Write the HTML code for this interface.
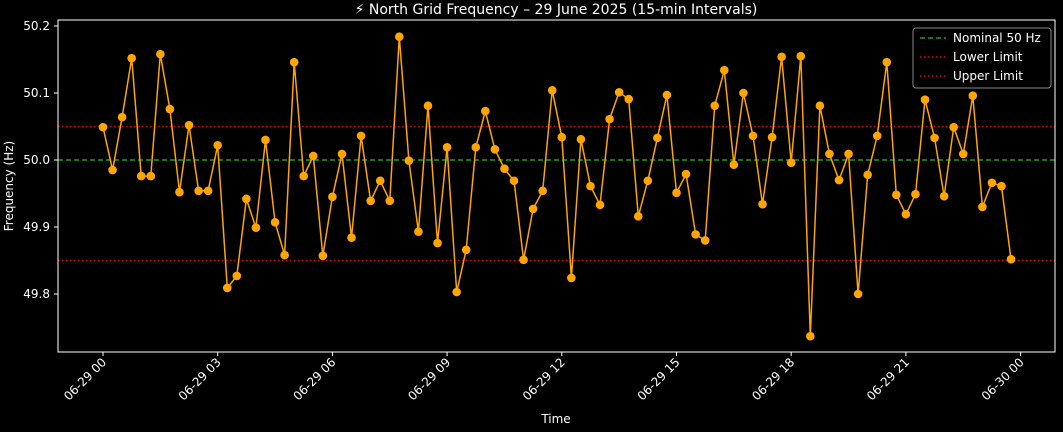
<!DOCTYPE html>
<html><head><meta charset="utf-8"><style>
html,body{margin:0;padding:0;background:#000;}
svg{display:block;font-family:"DejaVu Sans","Liberation Sans",sans-serif;}
</style></head><body>
<svg id="chart" width="1063" height="432" viewBox="0 0 1063 432">
<rect width="1063" height="432" fill="#000"/>
<text x="556" y="14" fill="#fff" font-size="14" text-anchor="middle">⚡ North Grid Frequency – 29 June 2025 (15-min Intervals)</text>
<g id="plot"></g>
<rect x="58" y="20" width="997" height="332" fill="none" stroke="#fff" stroke-width="1"/>
<text x="556" y="423" fill="#fff" font-size="12" text-anchor="middle">Time</text>
<text transform="translate(13,186) rotate(-90)" fill="#fff" font-size="12" text-anchor="middle">Frequency (Hz)</text>
<g>
<rect x="913" y="28" width="138" height="60" rx="3" fill="#000" stroke="#888" stroke-width="1"/>
<line x1="920" y1="38" x2="946" y2="38" stroke="#1f9a1f" stroke-width="1.5" stroke-dasharray="5,3"/>
<text x="953" y="42" fill="#fff" font-size="12">Nominal 50 Hz</text>
<line x1="920" y1="57" x2="946" y2="57" stroke="#d01010" stroke-width="1.5" stroke-dasharray="1.5,2.5"/>
<text x="953" y="61" fill="#fff" font-size="12">Lower Limit</text>
<line x1="920" y1="76" x2="946" y2="76" stroke="#d01010" stroke-width="1.5" stroke-dasharray="1.5,2.5"/>
<text x="953" y="80" fill="#fff" font-size="12">Upper Limit</text>
</g>
</svg>
<script>
const hours = [];
const freqValues = [50.049,49.985,50.064,50.152,49.976,49.976,50.158,50.076,49.952,50.052,49.954,49.954,50.022,49.809,49.827,49.942,49.899,50.030,49.907,49.858,50.146,49.976,50.006,49.857,49.945,50.009,49.884,50.036,49.939,49.969,49.939,50.184,49.999,49.893,50.081,49.876,50.019,49.803,49.866,50.019,50.073,50.016,49.987,49.969,49.851,49.927,49.954,50.104,50.034,49.824,50.031,49.961,49.933,50.061,50.101,50.091,49.916,49.969,50.033,50.097,49.951,49.979,49.889,49.880,50.081,50.134,49.993,50.100,50.036,49.934,50.034,50.154,49.996,50.155,49.737,50.081,50.009,49.970,50.009,49.800,49.978,50.036,50.146,49.948,49.919,49.949,50.090,50.033,49.946,50.049,50.009,50.096,49.930,49.966,49.961,49.852];
const xTickHours = [0,3,6,9,12,15,18,21,24];
const xTickLabels = ["06-29 00","06-29 03","06-29 06","06-29 09","06-29 12","06-29 15","06-29 18","06-29 21","06-30 00"];
const yTicks = [49.8,49.9,50.0,50.1,50.2];
const nominal = 50.0, lowerLimit = 49.85, upperLimit = 50.05;
for (let i = 0; i < freqValues.length; i++) hours.push(i * 0.25);

const NS = "http://www.w3.org/2000/svg";
const g = document.getElementById('plot');
function xs(h){ return 103 + h * (114.7/3); }
function ys(v){ return 160 - (v - 50) * 670; }
function mk(tag, attrs){ const e = document.createElementNS(NS, tag); for (const k in attrs) e.setAttribute(k, attrs[k]); g.appendChild(e); return e; }

yTicks.forEach(v => {
  const y = ys(v);
  const t = mk('line', {x1:54, x2:58, y1:y, y2:y, stroke:'#fff'});
  
  
  const l = mk('text', {x:50, y:y+4, fill:'#fff', 'font-size':12, 'text-anchor':'end'});
  l.textContent = v.toFixed(1);
  
  
});
xTickHours.forEach((h, i) => {
  const x = xs(h);
  const t = mk('line', {x1:x, x2:x, y1:352, y2:356, stroke:'#fff'});
  
  
  const l = mk('text', {x:0, y:0, fill:'#fff', 'font-size':12, 'text-anchor':'end', transform:`translate(${x+4},${363}) rotate(-45)`});
  l.textContent = xTickLabels[i];
  
  
});

const nl = mk('line', {x1:58, x2:1055, y1:ys(nominal), y2:ys(nominal), stroke:'#1f9a1f', 'stroke-width':1.5, 'stroke-dasharray':'5,3'});


const ll = mk('line', {x1:58, x2:1055, y1:ys(lowerLimit), y2:ys(lowerLimit), stroke:'#d01010', 'stroke-width':1.5, 'stroke-dasharray':'1.5,2.5'});


const ul = mk('line', {x1:58, x2:1055, y1:ys(upperLimit), y2:ys(upperLimit), stroke:'#d01010', 'stroke-width':1.5, 'stroke-dasharray':'1.5,2.5'});



const pts = freqValues.map((v, i) => xs(hours[i]).toFixed(1) + ',' + ys(v).toFixed(1)).join(' ');
const line = mk('polyline', {points:pts, fill:'none', stroke:'#ffa500', 'stroke-width':1.5});


freqValues.forEach((v, i) => {
  const c = mk('circle', {cx:xs(hours[i]), cy:ys(v), r:4.3, fill:'#ffa500'});
  
  
});
</script>
</body></html>
